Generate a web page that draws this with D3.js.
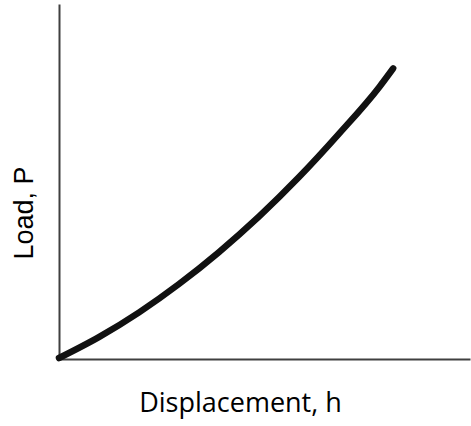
<!DOCTYPE html>
<html>
<head>
<meta charset="utf-8">
<script src="https://cdn.jsdelivr.net/npm/d3@7"></script>
<style>
  html, body { margin: 0; padding: 0; background: #fff; }
  svg { display: block; }
</style>
</head>
<body>
<svg id="chart" width="471" height="426"></svg>
<script>
// Data (normalized units)
const displacement = [0, 0.097, 0.195, 0.292, 0.389, 0.487, 0.584, 0.681, 0.779, 0.813];
const load         = [0, 0.059, 0.129, 0.209, 0.299, 0.400, 0.511, 0.633, 0.765, 0.818];
const xTitle = "Displacement, h";
const yTitle = "Load, P";

const svg = d3.select("#chart");
const x = d3.scaleLinear().domain([0, 1]).range([59, 470]);
const y = d3.scaleLinear().domain([0, 1]).range([358, 4]);

// Axes (no ticks)
const xAxis = d3.axisBottom(x).tickValues([]).tickSizeOuter(0);
const yAxis = d3.axisLeft(y).tickValues([]).tickSizeOuter(0);
svg.append("g").attr("transform", `translate(0,${y(0) + 1})`).call(xAxis)
  .select(".domain").attr("stroke", "#404040").attr("stroke-width", 2);
svg.append("g").attr("transform", `translate(${x(0)},0)`).call(yAxis)
  .select(".domain").attr("stroke", "#404040").attr("stroke-width", 2);

// Curve
const pts = displacement.map((d, i) => [d, load[i]]);
const line = d3.line().x(d => x(d[0])).y(d => y(d[1])).curve(d3.curveMonotoneX);
svg.append("path").datum(pts)
  .attr("d", line)
  .attr("fill", "none")
  .attr("stroke", "#111")
  .attr("stroke-width", 6.5)
  .attr("stroke-linecap", "round");

// Titles
svg.append("text")
  .attr("x", 240.5).attr("y", 412)
  .attr("text-anchor", "middle")
  .attr("font-family", "'Open Sans', sans-serif")
  .attr("font-size", 27)
  .attr("fill", "#000")
  .text(xTitle);

svg.append("text")
  .attr("transform", "translate(33,213) rotate(-90)")
  .attr("text-anchor", "middle")
  .attr("font-family", "'Liberation Sans', Arial, sans-serif")
  .attr("font-size", 27)
  .attr("fill", "#000")
  .text(yTitle);
</script>
</body>
</html>
